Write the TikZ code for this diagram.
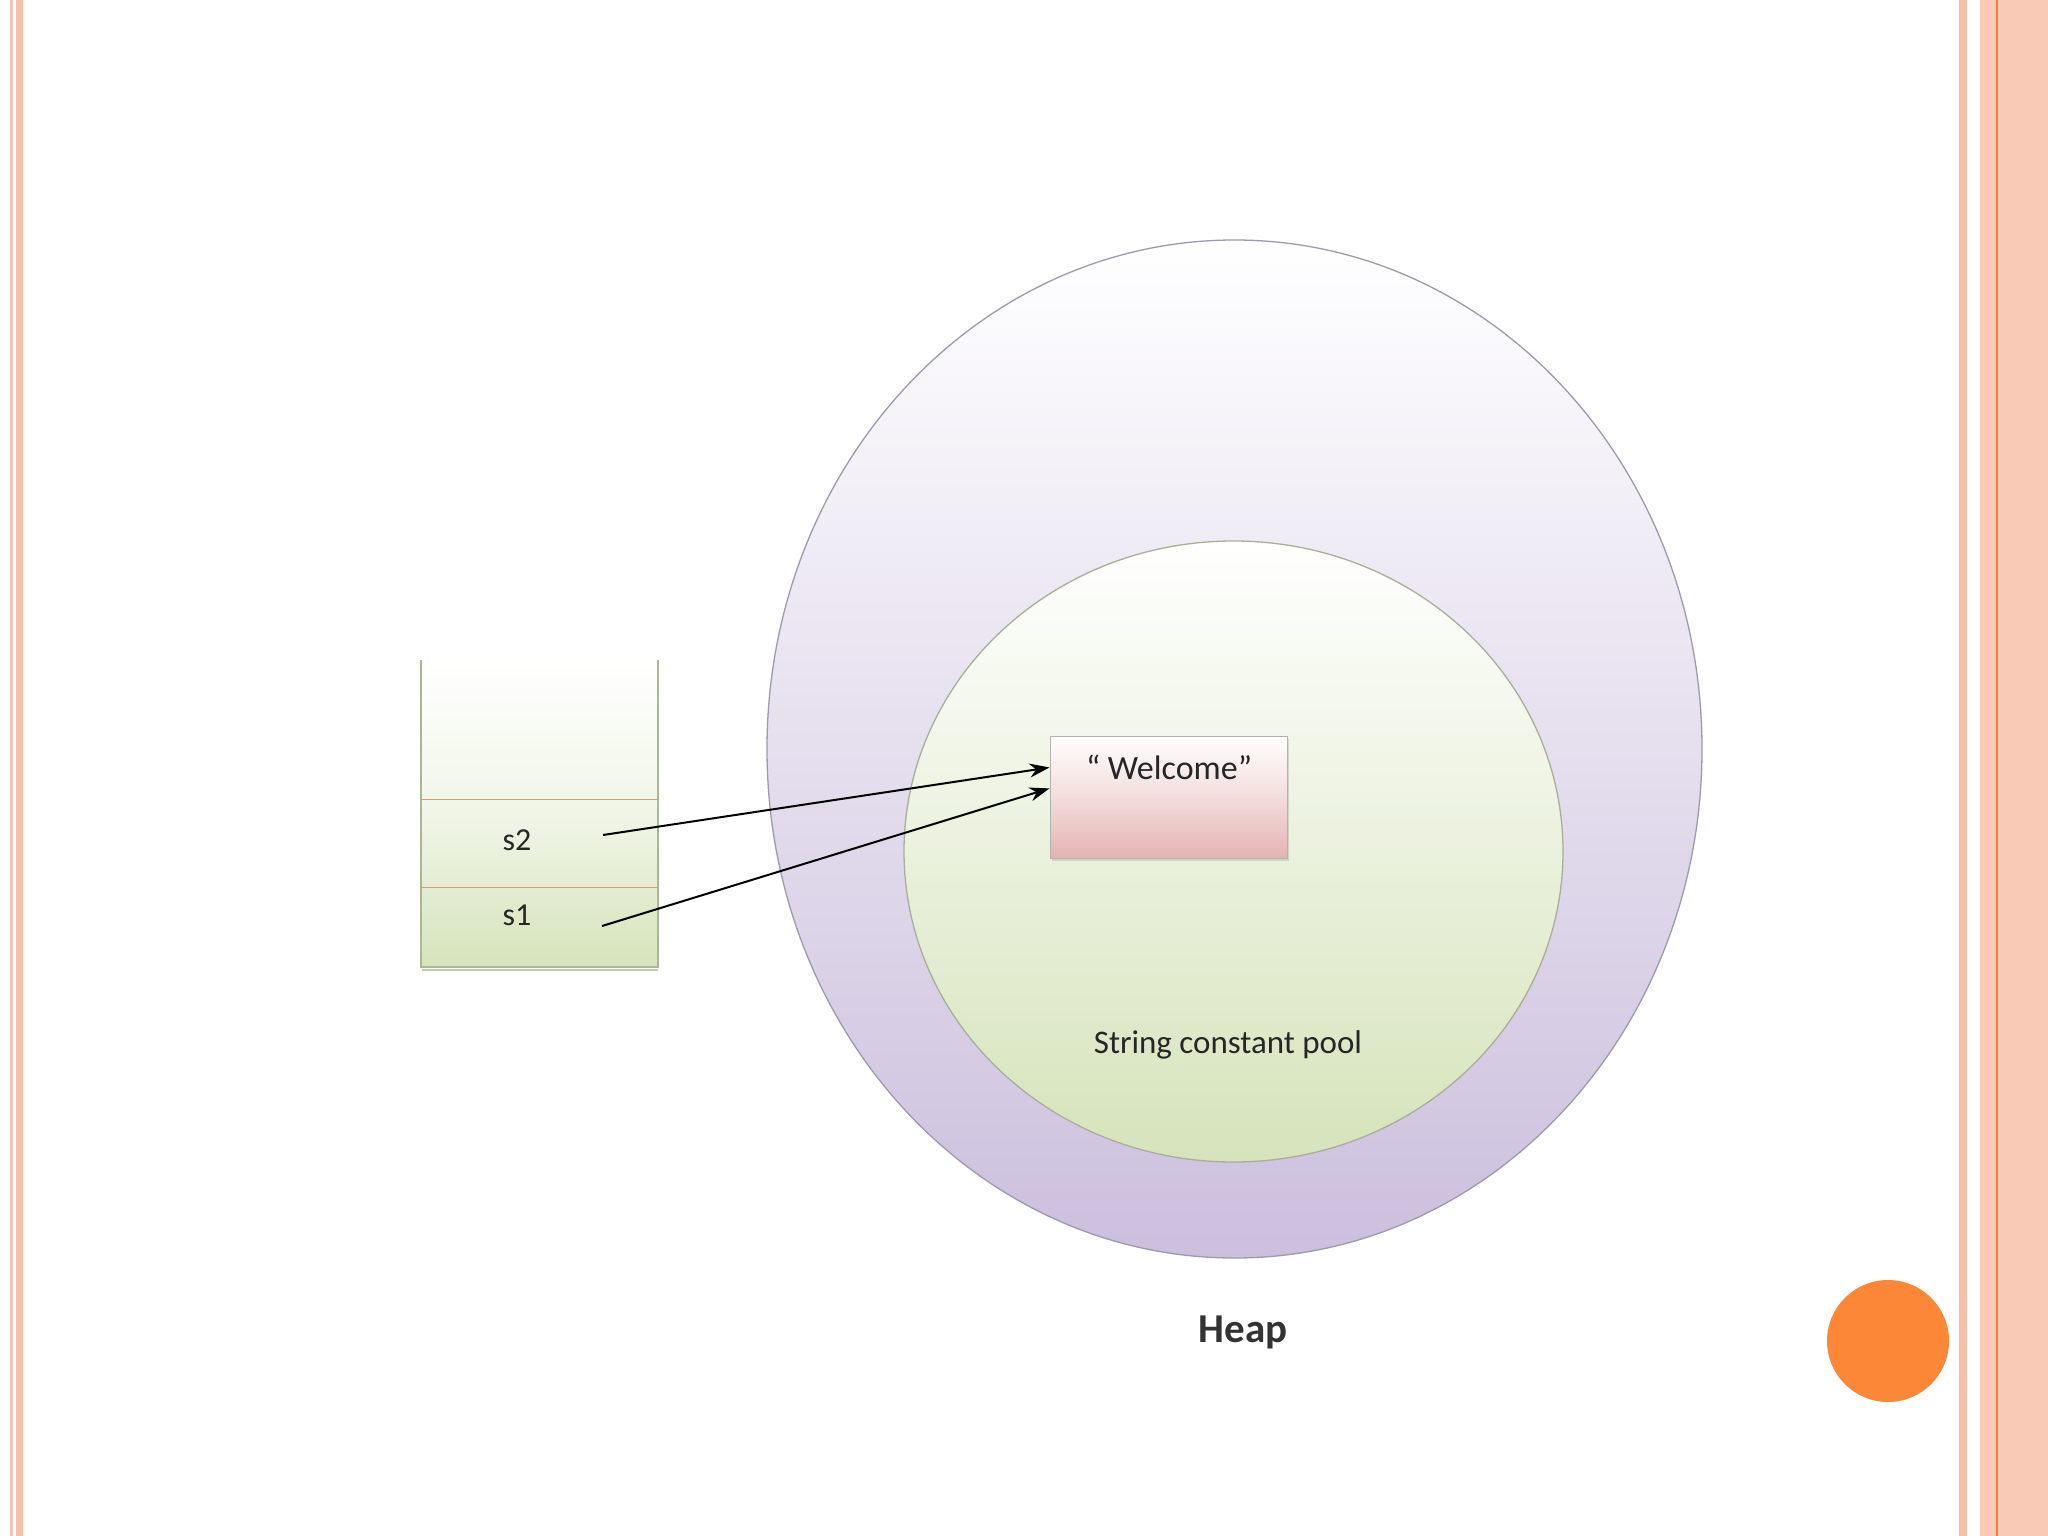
\documentclass[tikz,border=0pt]{standalone}
\usepackage{fontspec}
\setmainfont{Carlito}
\usetikzlibrary{shapes.geometric,arrows.meta,calc,shadows}
\definecolor{salmon}{HTML}{F9BEA6}
\definecolor{salmonlt}{HTML}{F9CBB6}
\definecolor{pinkline}{HTML}{F6C4BC}
\definecolor{orangeln}{HTML}{F07D3C}
\definecolor{dotorange}{HTML}{FB8737}
\definecolor{lav}{HTML}{CBBFDD}
\definecolor{lavmid}{HTML}{ECE9F3}
\definecolor{pgreen}{HTML}{D6E3BB}
\definecolor{pgreenmid}{HTML}{F1F5E8}
\definecolor{pinkbox}{HTML}{E4B3B2}
\definecolor{txtc}{HTML}{262626}
\definecolor{heapedge}{HTML}{9E99AE}
\definecolor{pooledge}{HTML}{A9AE9B}
\tikzset{
  heapell/.style={ellipse, inner sep=0pt, draw=heapedge, line width=1.3pt,
    top color=white, middle color=lavmid, bottom color=lav},
  poolell/.style={ellipse, inner sep=0pt, draw=pooledge, line width=1.3pt,
    top color=white, middle color=pgreenmid, bottom color=pgreen},
  wbox/.style={rectangle, inner sep=0pt, draw=black!30, line width=1pt,
    top color=white, bottom color=pinkbox, middle color=white!55!pinkbox,
    drop shadow={shadow xshift=2pt, shadow yshift=-3pt, opacity=0.25}},
  txt/.style={font=\fontsize{32}{36}\selectfont, text=txtc, inner sep=0pt},
  ptr/.style={-{Stealth[length=20pt,width=14pt]}, line width=2pt, black},
  divider/.style={line width=1pt, draw=brown!60!pink},
  stackedge/.style={line width=1.2pt, draw=black!20!pgreen}
}
\begin{document}
\begin{tikzpicture}[x=1pt,y=-1pt]
\useasboundingbox (0,0) rectangle (2048,1536);
\fill[white] (0,0) rectangle (2048,1536);
% slide borders
\fill[pinkline] (10,0) rectangle (13,1536);
\fill[salmon] (16,0) rectangle (23,1536);
\fill[salmon] (1959,0) rectangle (1967,1536);
\fill[salmonlt] (1980,0) rectangle (2048,1536);
\draw[orangeln, line width=1.5pt] (1997,0) -- (1997,1536);
% heap
\node[heapell, minimum width=935pt, minimum height=1018pt] (heap) at (1234.5,749) {};
\node[poolell, minimum width=659pt, minimum height=621pt] (pool) at (1233.5,851.5) {};
\node[wbox, minimum width=237pt, minimum height=122pt] (welcome) at (1168.5,797) {};
\node[txt, font=\fontsize{34}{38}\selectfont] (wtext) at (1169,767) {“ Welcome”};
\node[txt, font=\fontsize{33}{38}\selectfont] (pooltext) at (1228,1045) {String constant pool};
\node[txt, font=\bfseries\fontsize{41}{46}\selectfont, text=black!80] (heaptext) at (1243,1332) {Heap};
% stack
\shade[top color=white, bottom color=pgreen, middle color=white!65!pgreen] (421,660) rectangle (658,967);
\draw[stackedge] (421,660) -- (421,967) -- (658,967) -- (658,660);
\draw[line width=2pt, black!10!pgreen] (422,970) -- (658,970);
\draw[divider] (421,799) -- (658,799);
\draw[divider] (421,887) -- (658,887);
\node[txt] (s2) at (517,840) {s2};
\node[txt] (s1) at (517,915) {s1};
% pointers
\coordinate (s2start) at (603,835);
\coordinate (s1start) at (602,926);
\coordinate (w2) at ($(welcome.north west)!0.26!(welcome.south west)$);
\coordinate (w1) at ($(welcome.north west)!0.43!(welcome.south west)$);
\draw[ptr] (s2start) -- (w2);
\draw[ptr] (s1start) -- (w1);
% orange dot
\fill[dotorange] (1888,1341) circle (61);
\end{tikzpicture}
\end{document}
